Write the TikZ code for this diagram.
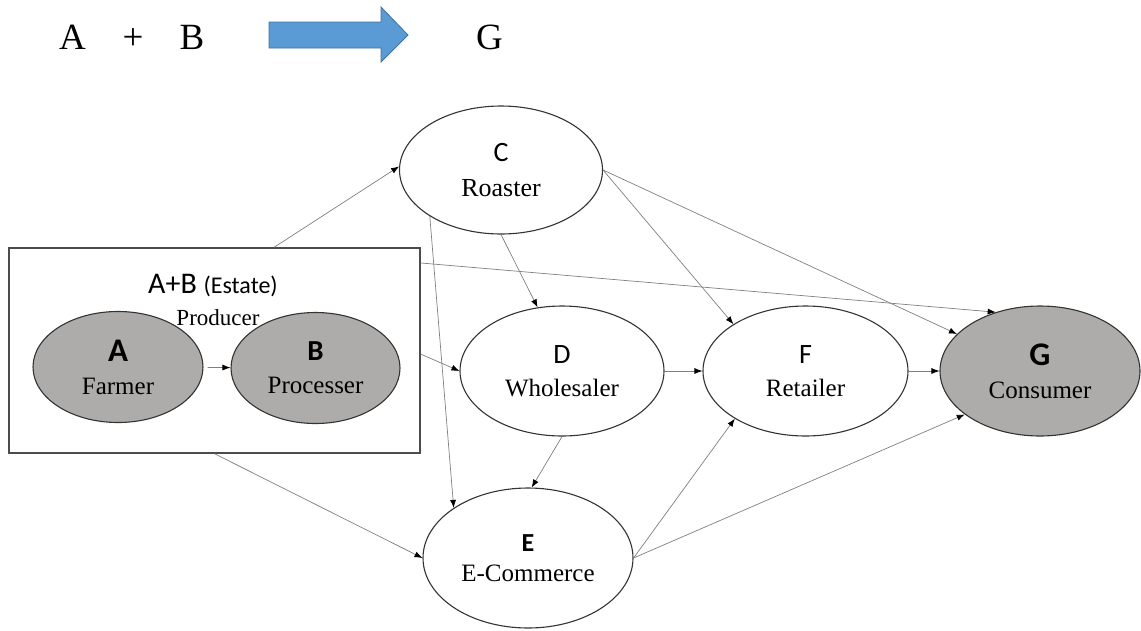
\documentclass[tikz,border=0pt]{standalone}
\usepackage{fontspec}
\setmainfont{Liberation Serif}
\newfontfamily\calib{Carlito}
\usepackage{tikz}
\usetikzlibrary{arrows.meta,shapes.geometric}

\definecolor{nodegray}{HTML}{AEABAB}
\definecolor{arrowblue}{HTML}{5B9BD5}
\definecolor{arrowedge}{HTML}{41719C}
\definecolor{linegray}{HTML}{7F7F7F}

\tikzset{
  stage/.style={ellipse, draw=black!80, line width=1.1pt, inner sep=0pt,
    minimum width=204pt, minimum height=130pt, align=center, text depth=-6pt,
    font=\fontsize{25}{33}\selectfont},
  actor/.style={stage, fill=nodegray},
  conn/.style={draw=linegray, line width=0.7pt,
    -{Latex[length=8pt,width=6pt,color=black]}},
  big/.style={anchor=base, font=\fontsize{37}{40}\selectfont},
}
\newcommand{\letter}[1]{{\calib\fontsize{28}{33}\selectfont #1}}
\newcommand{\bigletter}[1]{{\calib\bfseries\fontsize{33}{33}\selectfont #1}}

\begin{document}
\begin{tikzpicture}[x=1pt,y=-1pt]
    \useasboundingbox (0,0) rectangle (1141,630);

    % A + B => G
    \node[big] (tA) at (72.5,49) {A};
    \node[big] (tplus) at (133,49) {+};
    \node[big] (tB) at (192,49) {B};
    \node[big] (tG) at (489.5,49) {G};
    \draw[fill=arrowblue, draw=arrowedge, line width=0.8pt]
        (269,22) -- (381,22) -- (381,7) -- (408,35) -- (381,62) -- (381,48) -- (269,48) -- cycle;

    % Producer (estate)
    \node[draw=black!70, line width=1.4pt, minimum width=411pt, minimum height=205pt, inner sep=0pt] (prod) at (214.5,350.5) {};
    \node[actor, minimum width=170pt, minimum height=111pt] (A) at (118,367) {\bigletter{A}\\Farmer};
    \node[actor, minimum width=169pt, minimum height=111pt] (B) at (315.5,368) {{\calib\bfseries\fontsize{29}{33}\selectfont B}\\Processer};
    \node[anchor=base, inner sep=0pt] (estate) at (213,293) {\calib\fontsize{30}{32}\selectfont A+B \fontsize{24}{28}\selectfont(Estate)};
    \node[anchor=base, inner sep=0pt, font=\fontsize{23}{28}\selectfont] (prodlbl) at (218,325) {Producer};

    % Channels
    \node[stage, minimum width=203pt, minimum height=128pt] (C) at (501,170) {\letter{C}\\[2pt]\fontsize{26}{33}\selectfont Roaster};
    \node[stage] (D) at (562,371) {\letter{D}\\Wholesaler};
    \node[stage, minimum width=210pt, minimum height=140pt] (E) at (528,558) {{\calib\bfseries\fontsize{26}{30}\selectfont E}\\[-3pt]E-Commerce};
    \node[stage, minimum width=205pt] (F) at (805.5,371) {\letter{F}\\Retailer};
    \node[actor, minimum width=200pt] (G) at (1040,371) {\bigletter{G}\\Consumer};

    % Flows
    \draw[conn, shorten <=4pt] (A) -- (B);
    \draw[conn] (prod.60) -- (C.178);
    \draw[conn] (prod.359) -- (D.west);
    \draw[conn] (prod.23) -- (G.127);
    \draw[conn] (prod.south) -- (E.west);
    \draw[conn] (C.213) -- (E.146);
    \draw[conn] (C.south) -- (D.111);
    \draw[conn] (C.east) -- (F.147);
    \draw[conn] (C.east) -- (G.156);
    \draw[conn] (D) -- (F);
    \draw[conn] (D.south) -- (E.87);
    \draw[conn] (F) -- (G);
    \draw[conn] (E.east) -- (F.214);
    \draw[conn] (E.east) -- (G.210);
\end{tikzpicture}
\end{document}
